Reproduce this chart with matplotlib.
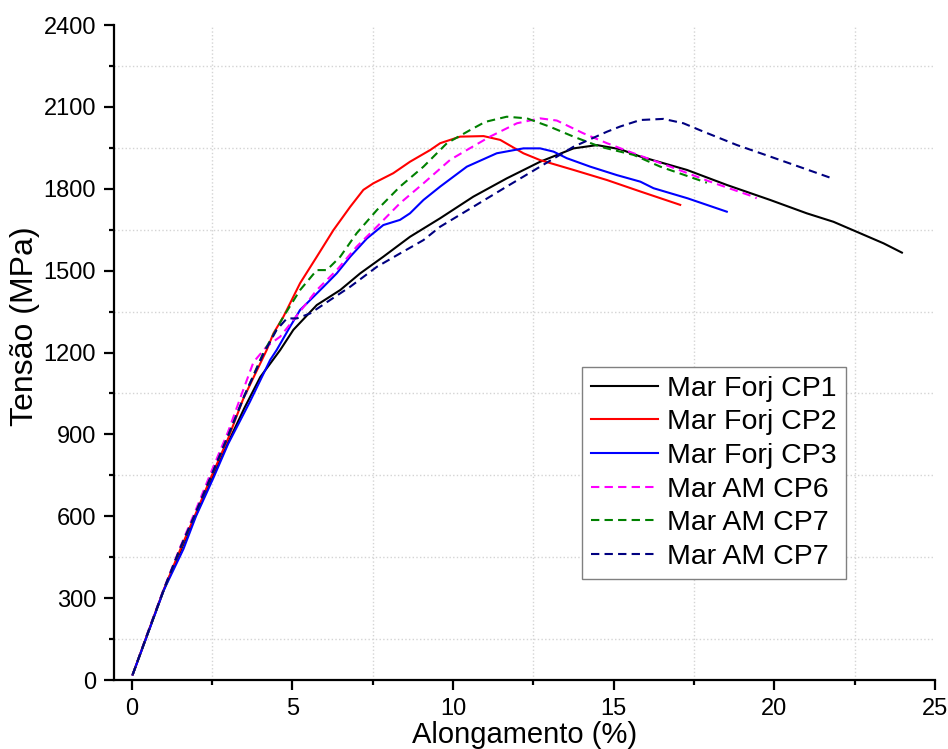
#!/usr/bin/env python3
# -*- coding: utf-8 -*-

import matplotlib
matplotlib.use('Agg')
import matplotlib.pyplot as plt
from matplotlib.ticker import MultipleLocator

# -- DATA --
# Mar Forj CP1
cp1_x = [0.03, 0.5, 1, 1.5, 2, 2.5, 3, 3.5, 4, 4.62, 5.03, 5.76, 6.49, 7.11,
         7.83, 8.66, 9.6, 10.63, 11.67, 12.71, 13.75, 14.48, 15.2, 15.83,
         17.28, 18.52, 19.87, 21.01, 21.84, 22.67, 23.4, 23.97]
cp1_y = [20, 170, 330, 468, 605, 740, 870, 995, 1110, 1209, 1283, 1374, 1429,
         1490, 1551, 1624, 1692, 1771, 1838, 1899, 1948, 1960, 1945, 1918,
         1869, 1814, 1759, 1710, 1679, 1637, 1600, 1566]

# Mar Forj CP2
cp2_x = [0.03, 0.5, 1, 1.51, 2, 2.44, 3, 3.47, 4.2, 4.41, 4.72, 5.24, 5.76,
         6.28, 6.8, 7.21, 7.52, 8.14, 8.66, 9.29, 9.6, 10.22, 10.95, 11.47,
         12.19, 12.71, 13.75, 14.79, 15.83, 17.07]
cp2_y = [20, 172, 332, 478, 612, 735, 885, 1030, 1209, 1270, 1331, 1454, 1551,
         1649, 1734, 1796, 1820, 1857, 1899, 1942, 1967, 1991, 1993, 1979,
         1930, 1905, 1869, 1832, 1790, 1741]

# Mar Forj CP3
cp3_x = [0.03, 0.5, 1, 1.61, 2, 2.54, 3, 3.68, 4.31, 4.51, 4.93, 5.24, 5.45,
         5.97, 6.38, 6.8, 7.32, 7.83, 8.35, 8.66, 9.08, 9.6, 10.43, 11.36,
         12.19, 12.71, 13.13, 13.54, 14.27, 15.1, 15.83, 16.24, 17.3, 18.52]
cp3_y = [20, 170, 330, 480, 600, 740, 865, 1020, 1173, 1209, 1295, 1356, 1380,
         1441, 1490, 1551, 1618, 1667, 1686, 1710, 1759, 1808, 1881, 1930,
         1948, 1948, 1936, 1912, 1881, 1850, 1826, 1802, 1765, 1716]

# Mar AM CP6
cp6_x = [0.03, 0.5, 1, 1.5, 2, 2.5, 3, 3.47, 3.79, 4.2, 4.62, 5.03, 5.76, 6.38,
         7.0, 7.63, 8.35, 9.08, 9.91, 10.43, 11.15, 11.99, 12.71, 13.23,
         14.06, 14.79, 15.62, 16.76, 18.0, 19.35, 19.45]
cp6_y = [20, 175, 335, 485, 625, 770, 910, 1063, 1165, 1222, 1258, 1319, 1429,
         1502, 1588, 1661, 1747, 1820, 1906, 1942, 1991, 2040, 2058, 2050,
         2003, 1967, 1930, 1881, 1826, 1771, 1765]

# Mar AM CP7
cp7_x = [0.03, 0.5, 1, 1.5, 2, 2.5, 3, 3.5, 4.1, 4.72, 5.24, 5.76, 6.07, 6.49,
         7.0, 7.63, 8.35, 9.08, 9.81, 10.53, 11.0, 11.67, 12.3, 13.02, 13.75,
         14.58, 15.62, 16.45, 17.8, 17.9]
cp7_y = [20, 172, 332, 480, 615, 755, 895, 1040, 1200, 1331, 1429, 1502, 1502,
         1551, 1637, 1722, 1808, 1881, 1967, 2015, 2045, 2064, 2058, 2027,
         1991, 1954, 1924, 1881, 1826, 1822]

# Mar AM CP7 (second one, navy)
cp7b_x = [0.03, 0.5, 1, 1.5, 2, 2.5, 3, 3.5, 4.1, 4.51, 4.83, 5.14, 5.55,
          6.17, 6.8, 7.63, 8.35, 9.08, 9.6, 10.63, 11.67, 12.71, 13.75, 14.79,
          15.2, 15.83, 16.55, 17.17, 17.8, 18.84, 19.87, 20.91, 21.8]
cp7b_y = [20, 172, 332, 480, 615, 755, 895, 1040, 1195, 1283, 1325, 1325,
          1343, 1392, 1441, 1514, 1563, 1612, 1661, 1734, 1808, 1881, 1954,
          2009, 2028, 2052, 2056, 2040, 2009, 1960, 1918, 1875, 1838]

labels = ['Mar Forj CP1', 'Mar Forj CP2', 'Mar Forj CP3',
          'Mar AM CP6', 'Mar AM CP7', 'Mar AM CP7']

x_ticks = [0, 5, 10, 15, 20, 25]
y_ticks = [0, 300, 600, 900, 1200, 1500, 1800, 2100, 2400]

# -- SETUP --
plt.rcParams['font.family'] = ['Liberation Sans', 'DejaVu Sans']

fig = plt.figure(figsize=(9.48, 7.49), dpi=100)
ax = fig.add_axes([0.1203, 0.0921, 0.866, 0.8745])

dash = (0, (4, 2.5))
ax.plot(cp1_x, cp1_y, color='black', lw=1.5, label=labels[0])
ax.plot(cp2_x, cp2_y, color='#ff0000', lw=1.5, label=labels[1])
ax.plot(cp3_x, cp3_y, color='#0000ff', lw=1.5, label=labels[2])
ax.plot(cp6_x, cp6_y, color='#ff00ff', lw=1.5, ls=dash, label=labels[3])
ax.plot(cp7_x, cp7_y, color='#008000', lw=1.5, ls=dash, label=labels[4])
ax.plot(cp7b_x, cp7b_y, color='#000080', lw=1.5, ls=dash, label=labels[5])

ax.set_xlim(-0.55, 25)
ax.set_ylim(0, 2400)
ax.set_xticks(x_ticks)
ax.set_yticks(y_ticks)
ax.xaxis.set_minor_locator(MultipleLocator(2.5))
ax.yaxis.set_minor_locator(MultipleLocator(150))

ax.spines['top'].set_visible(False)
ax.spines['right'].set_visible(False)
ax.spines['left'].set_linewidth(1.6)
ax.spines['bottom'].set_linewidth(1.6)

ax.tick_params(which='major', direction='out', length=7, width=1.6,
               labelsize=17, pad=6)
ax.tick_params(which='minor', direction='out', length=3.5, width=1.6)

# grid only on minor ticks, like the original
ax.grid(visible=True, which='minor', color='#d4d4d4', linestyle=':',
        linewidth=1)
ax.grid(visible=False, which='major')

ax.set_xlabel('Alongamento (%)', fontsize=21, labelpad=1)
ax.set_ylabel('Tensão (MPa)', fontsize=23)
ax.yaxis.set_label_coords(-0.09, 0.54)

leg = ax.legend(loc='upper left', bbox_to_anchor=(0.614, 0.51),
                bbox_transform=fig.transFigure, borderaxespad=0,
                fontsize=20.5, frameon=True, fancybox=False,
                edgecolor='#808080', framealpha=1, handlelength=2.35,
                handletextpad=0.35, labelspacing=0.27, borderpad=0.3)
leg.get_frame().set_linewidth(1.0)

plt.savefig('out.png', dpi=100)
